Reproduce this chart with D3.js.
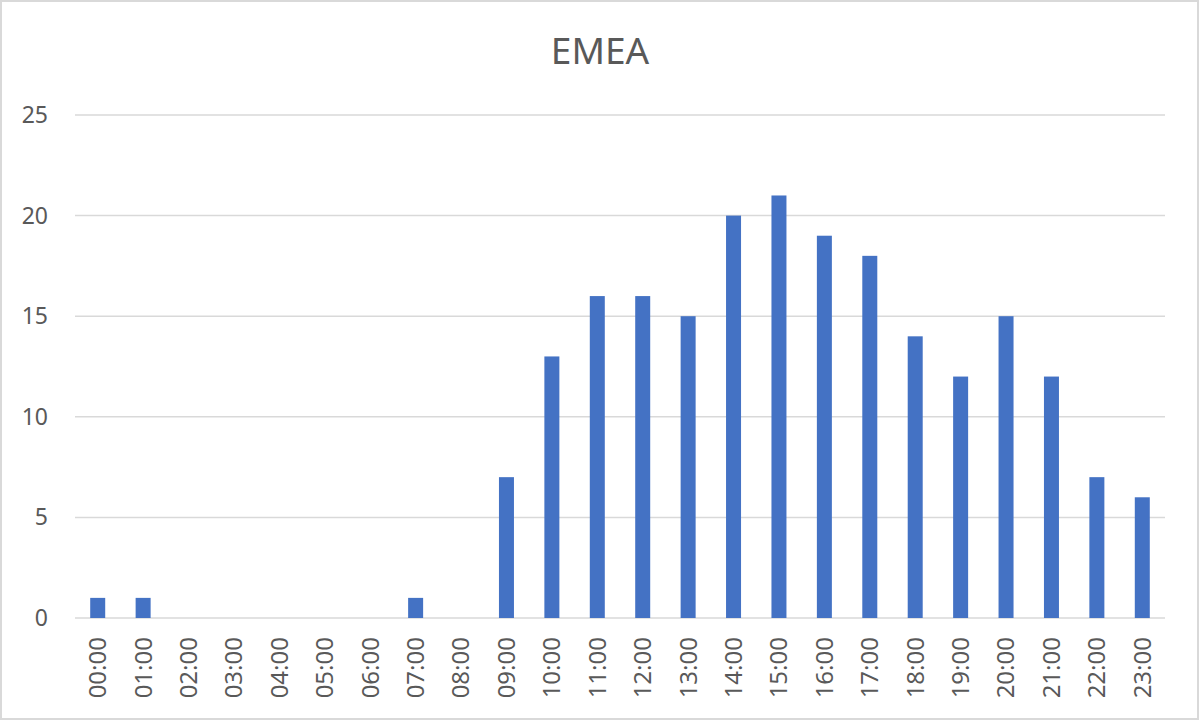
<!DOCTYPE html>
<html><head><meta charset="utf-8">
<script src="https://cdn.jsdelivr.net/npm/d3@7"></script>
<style>body{margin:0;background:#fff}svg{display:block}</style>
</head><body>
<svg id="c" width="1200" height="721"></svg>
<script>
const categories = ["00:00","01:00","02:00","03:00","04:00","05:00","06:00","07:00","08:00","09:00","10:00","11:00","12:00","13:00","14:00","15:00","16:00","17:00","18:00","19:00","20:00","21:00","22:00","23:00"];
const values = [1,1,0,0,0,0,0,1,0,7,13,16,16,15,20,21,19,18,14,12,15,12,7,6];
const yTicks = [0,5,10,15,20,25];
const title = "EMEA";

const svg = d3.select("#c");
const font = "'Noto Sans', 'Open Sans', sans-serif";
svg.append("rect").attr("x",1).attr("y",1).attr("width",1197).attr("height",718)
  .attr("fill","#fff").attr("stroke","#d9d9d9").attr("stroke-width",2);

const x = d3.scaleBand().domain(categories).range([75,1165]).padding(0);
const y = d3.scaleLinear().domain([0,25]).range([618,115]);

svg.append("text").attr("x",600).attr("y",64).attr("text-anchor","middle")
  .attr("font-family",font).attr("font-size",37).attr("fill","#595959").text(title);

const g = svg.append("g");
g.selectAll("line.grid").data(yTicks).join("line")
  .attr("x1",75).attr("x2",1165).attr("y1",d=>y(d)).attr("y2",d=>y(d))
  .attr("stroke","#d9d9d9").attr("stroke-width",1.5);

g.selectAll("text.yl").data(yTicks).join("text")
  .attr("x",48).attr("y",d=>y(d)).attr("dy","0.35em").attr("text-anchor","end")
  .attr("font-family",font).attr("font-size",23).attr("fill","#595959").text(d=>d);

const bw = 15;
g.selectAll("rect.bar").data(values).join("rect")
  .attr("x",(d,i)=>x(categories[i])+x.bandwidth()/2-bw/2)
  .attr("width",bw)
  .attr("y",d=>y(d)).attr("height",d=>y(0)-y(d))
  .attr("fill","#4472C4");

g.selectAll("text.xl").data(categories).join("text")
  .attr("transform",d=>`translate(${x(d)+x.bandwidth()/2},637) rotate(-90)`)
  .attr("dy","0.35em").attr("text-anchor","end")
  .attr("font-family",font).attr("font-size",24).attr("fill","#595959").text(d=>d);
</script>
</body></html>
